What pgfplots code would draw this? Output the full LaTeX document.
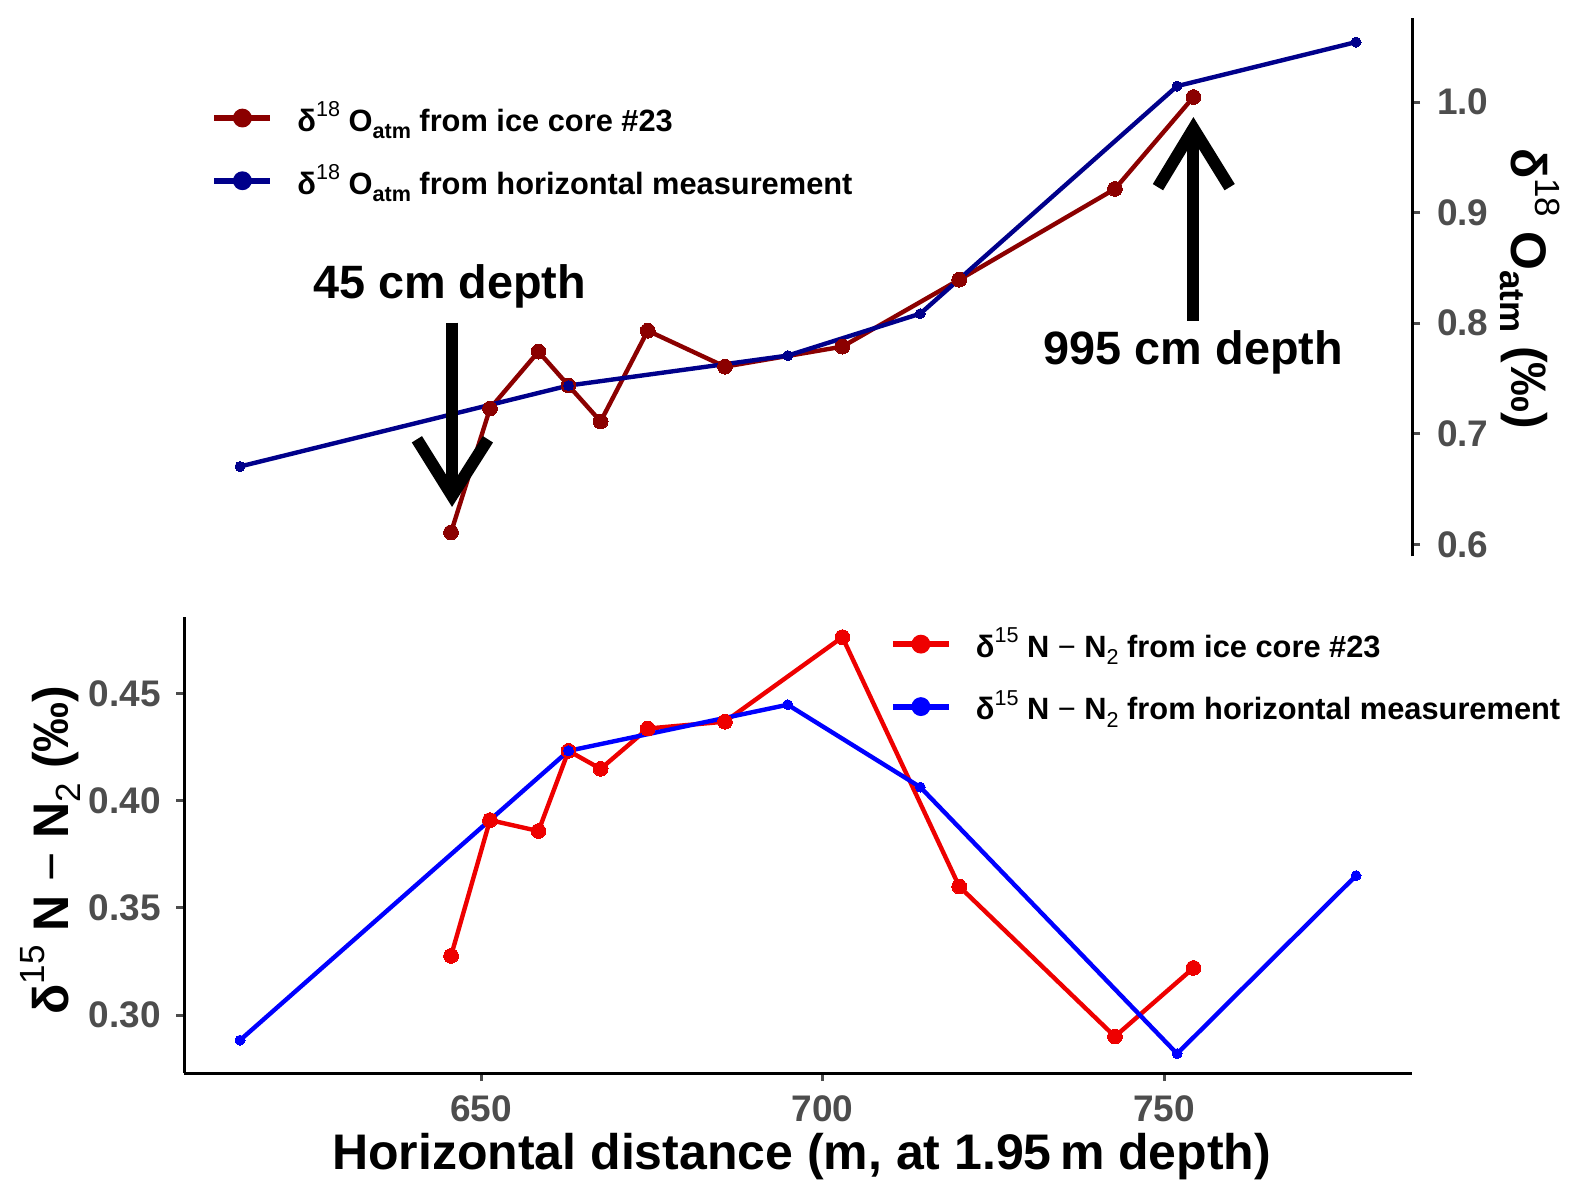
\documentclass[border=0pt]{standalone}
\usepackage{fontspec}
\setmainfont{Liberation Sans}
\usepackage{graphicx}
\usepackage{pgfplots}
\pgfplotsset{compat=1.18}
\definecolor{tickgray}{HTML}{4D4D4D}
\definecolor{topred}{HTML}{8B0000}
\definecolor{topblue}{HTML}{00008B}
\definecolor{botred}{HTML}{EE0000}
\definecolor{botblue}{HTML}{0000FF}
\newcommand{\sups}[1]{\raisebox{0.9ex}{\scalebox{0.7}{\mdseries #1}}}
\newcommand{\subs}[1]{\raisebox{-0.45ex}{\scalebox{0.7}{#1}}}
\newcommand{\subsm}[1]{\raisebox{-0.45ex}{\scalebox{0.7}{\mdseries #1}}}
\begin{document}
\begin{tikzpicture}
\useasboundingbox (0,0) rectangle (789pt,600.5pt);
\pgfplotsset{
  every axis/.append style={
    scale only axis,
    anchor=south west,
    width=614pt,
    xmin=606.5, xmax=786.3,
    clip=false,
    axis line style={line width=1.5pt, black},
    tick align=outside,
    major tick length=4pt,
    every tick/.style={line width=1.5pt, tickgray},
    tick label style={font=\fontsize{18.5}{18.5}\selectfont\bfseries, text=tickgray},
    /pgf/number format/assume math mode=true,
    legend cell align=left,
    legend style={draw=none, fill=none, inner sep=0pt,
      font=\fontsize{15.4}{15.4}\selectfont\bfseries, row sep=11pt,
      /tikz/every odd column/.append style={column sep=10pt}},
    legend image code/.code={\draw[#1, line width=3pt] (0pt,0pt) -- (28pt,0pt);
      \fill[#1] (14pt,0pt) circle (3.6pt);},
  }
}
% ---------------- top panel ----------------
\begin{axis}[
  at={(92pt,322.25pt)},
  height=269.25pt,
  ymin=0.589, ymax=1.076,
  hide x axis,
  axis y line*=right,
  ytick={0.6,0.7,0.8,0.9,1.0},
  yticklabel style={xshift=5pt, /pgf/number format/.cd, fixed, fixed zerofill, precision=1},
  legend style={at={(axis description cs:0.0220,0.756)}, anchor=west},
]
\addplot[topred, line width=2.2pt, mark=*, mark size=3.7pt, mark options={solid, line width=0pt}] table {
x y
645.6 0.6108
651.3 0.7228
658.4 0.7743
662.8 0.7436
667.5 0.7111
674.4 0.7932
685.7 0.7607
702.9 0.7788
720.0 0.8393
742.8 0.9214
754.3 1.0045
};
\addlegendentry{δ\sups{18} O\subs{atm} from ice core \#23}
\addplot[topblue, line width=2.2pt, mark=*, mark size=2.5pt, mark options={solid, line width=0pt}] table {
x y
614.7 0.6704
662.8 0.7436
694.9 0.7707
714.3 0.8086
751.9 1.0144
778.1 1.0542
};
\addlegendentry{δ\sups{18} O\subs{atm} from horizontal measurement}
% arrows
\draw[line width=6pt, black] (axis cs:645.75,0.8005) -- (axis cs:645.75,0.6500);
\draw[line width=6pt, black, miter limit=20] (axis cs:640.6,0.6950) -- (axis cs:645.75,0.6440) -- (axis cs:651.0,0.6950);
\draw[line width=6pt, black] (axis cs:754.3,0.8023) -- (axis cs:754.3,0.9700);
\draw[line width=6pt, black, miter limit=20] (axis cs:749.1,0.9230) -- (axis cs:754.3,0.9760) -- (axis cs:759.6,0.9230);
\node[font=\fontsize{23.4}{23.4}\selectfont\bfseries] at (axis cs:645.4,0.8335) {45 cm depth};
\node[font=\fontsize{23.4}{23.4}\selectfont\bfseries] at (axis cs:754.3,0.7740) {995 cm depth};
\node[rotate=-90, font=\fontsize{25}{25}\selectfont\bfseries] at (rel axis cs:1.096,0.497) {δ\sups{18} O\subs{atm} (‰)};
\end{axis}
% ---------------- bottom panel ----------------
\begin{axis}[
  at={(92pt,64pt)},
  height=228pt,
  ymin=0.273, ymax=0.4856,
  axis x line*=bottom,
  axis y line*=left,
  xtick={650,700,750},
  ytick={0.30,0.35,0.40,0.45},
  yticklabel style={xshift=-4pt, /pgf/number format/.cd, fixed, fixed zerofill, precision=2},
  xticklabel style={yshift=-4pt, /pgf/number format/.cd, fixed, precision=0},
  legend style={at={(axis description cs:0.5745,0.872)}, anchor=west},
]
\addplot[botred, line width=2.2pt, mark=*, mark size=3.7pt, mark options={solid, line width=0pt}] table {
x y
645.6 0.3276
651.3 0.3909
658.4 0.3858
662.8 0.4232
667.5 0.4148
674.4 0.4336
685.7 0.4368
702.9 0.4762
720.0 0.3600
742.8 0.2900
754.3 0.3220
};
\addlegendentry{δ\sups{15} N {\mdseries −} N\subsm{2} from ice core \#23}
\addplot[botblue, line width=2.2pt, mark=*, mark size=2.5pt, mark options={solid, line width=0pt}] table {
x y
614.7 0.2883
662.8 0.4232
694.9 0.4447
714.3 0.4063
751.9 0.2820
778.1 0.3650
};
\addlegendentry{δ\sups{15} N {\mdseries −} N\subsm{2} from horizontal measurement}
\node[rotate=90, font=\fontsize{25}{25}\selectfont\bfseries] at (rel axis cs:-0.109,0.489) {δ\sups{15} N {\mdseries −} N\subsm{2} (‰)};
\node[font=\fontsize{25}{25}\selectfont\bfseries] at (rel axis cs:0.503,-0.184) {Horizontal distance (m, at 1.95\,m depth)};
\end{axis}
\end{tikzpicture}
\end{document}
